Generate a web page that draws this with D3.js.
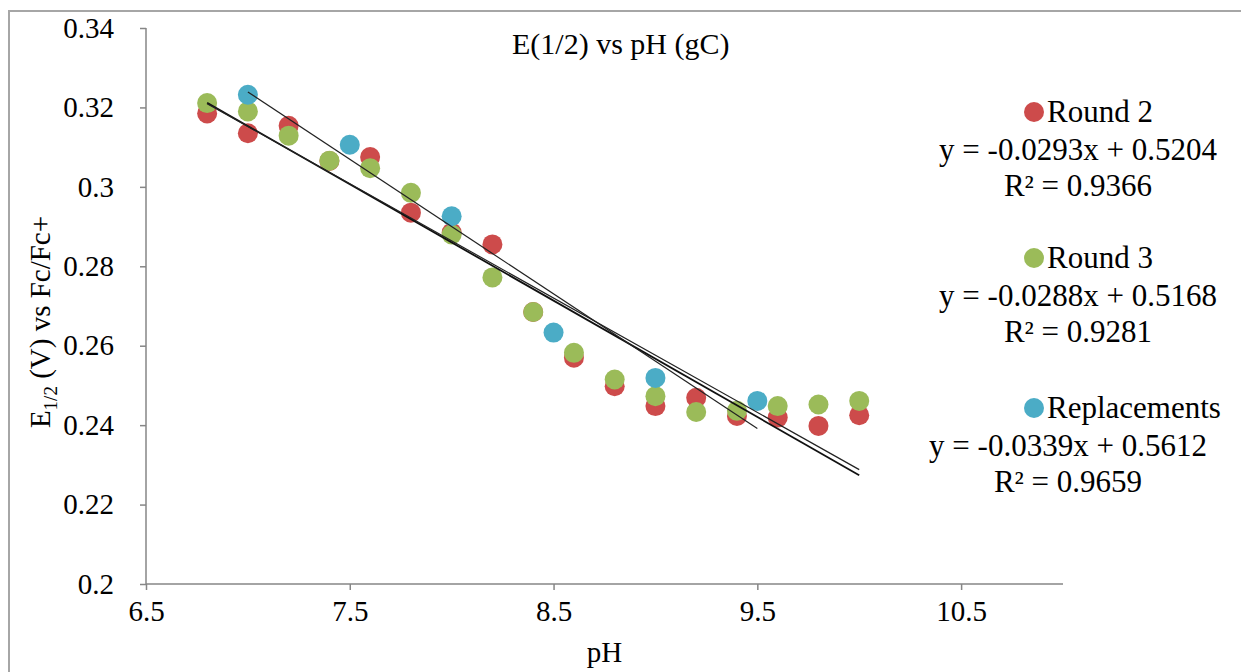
<!DOCTYPE html>
<html>
<head>
<meta charset="utf-8">
<script src="https://cdn.jsdelivr.net/npm/d3@7"></script>
<style>
  html, body { margin: 0; padding: 0; background: #fff; }
  svg { display: block; }
  svg text { font-family: "Liberation Serif", "Times New Roman", "DejaVu Serif", serif !important; fill: #000; }
</style>
</head>
<body>
<svg id="chart" width="1241" height="672"></svg>
<script>
// ---- data ----
const pH = [6.8, 7.0, 7.2, 7.4, 7.6, 7.8, 8.0, 8.2, 8.4, 8.6, 8.8, 9.0, 9.2, 9.4, 9.6, 9.8, 10.0];
const round2 = [0.3185, 0.3135, 0.3154, 0.3065, 0.3075, 0.2935, 0.2885, 0.2855, 0.2685, 0.2570, 0.2498, 0.2448, 0.2469, 0.2423, 0.2419, 0.2398, 0.2425];
const round3 = [0.3211, 0.3190, 0.3129, 0.3066, 0.3047, 0.2985, 0.2880, 0.2772, 0.2685, 0.2582, 0.2515, 0.2473, 0.2433, 0.2436, 0.2448, 0.2452, 0.2461];
const pHRepl = [7.0, 7.5, 8.0, 8.5, 9.0, 9.5];
const replacements = [0.3232, 0.3106, 0.2926, 0.2633, 0.2519, 0.2461];

const seriesNames = ["Round 2", "Round 3", "Replacements"];
const slopes = [-0.0293, -0.0288, -0.0339];
const intercepts = [0.5204, 0.5168, 0.5612];
const equations = ["y = -0.0293x + 0.5204", "y = -0.0288x + 0.5168", "y = -0.0339x + 0.5612"];
const r2Labels = ["R² = 0.9366", "R² = 0.9281", "R² = 0.9659"];

const xTicks = [6.5, 7.5, 8.5, 9.5, 10.5];
const yTicks = [0.2, 0.22, 0.24, 0.26, 0.28, 0.3, 0.32, 0.34];

const title = "E(1/2) vs pH (gC)";
const xTitle = "pH";

// ---- layout ----
const serif = '"Liberation Serif", "Times New Roman", "DejaVu Serif", serif';
const colors = ["#CD4B4B", "#9BBB59", "#4BACC6"];
const svg = d3.select("#chart");
const plot = { left: 146, right: 1063, top: 28, bottom: 584 };

const x = d3.scaleLinear().domain([6.5, 11]).range([plot.left, plot.right]);
const y = d3.scaleLinear().domain([0.2, 0.34]).range([plot.bottom, plot.top]);

svg.append("rect").attr("width", 1241).attr("height", 672).attr("fill", "#fff");
// outer chart border
svg.append("rect").attr("x", 9).attr("y", 11).attr("width", 1300).attr("height", 800)
  .attr("fill", "none").attr("stroke", "#a6a6a6").attr("stroke-width", 2);

// axes
const axisColor = "#868686";
const yAxis = svg.append("g").attr("transform", `translate(${plot.left},0)`)
  .call(d3.axisLeft(y).tickValues(yTicks).tickSize(6).tickPadding(26).tickFormat(d3.format("")));
const xAxis = svg.append("g").attr("transform", `translate(0,${plot.bottom})`)
  .call(d3.axisBottom(x).tickValues(xTicks).tickSize(6).tickPadding(10).tickFormat(d3.format("")));
[xAxis, yAxis].forEach(g => {
  g.attr("font-family", serif).attr("font-size", 29);
  g.select(".domain").attr("stroke", axisColor).attr("stroke-width", 1.5);
  g.selectAll(".tick line").attr("stroke", axisColor).attr("stroke-width", 1.5);
  g.selectAll(".tick text").style("font-family", serif).style("font-size", "29px").attr("fill", "#000");
});
xAxis.select(".domain").attr("d", `M${plot.left},0H${plot.right}`);
yAxis.select(".domain").attr("d", `M0,${plot.top}V${plot.bottom}`);

// series points
const seriesX = [pH, pH, pHRepl];
const seriesY = [round2, round3, replacements];
seriesY.forEach((vals, i) => {
  svg.append("g").selectAll("circle").data(vals).join("circle")
    .attr("cx", (d, j) => x(seriesX[i][j]))
    .attr("cy", d => y(d))
    .attr("r", 10)
    .attr("fill", colors[i]);
});

// trendlines
const trendWidths = [1.8, 1.2, 1.2];
const trendColors = ["#111", "#222", "#222"];
seriesX.forEach((xs, i) => {
  const x0 = d3.min(xs), x1 = d3.max(xs);
  svg.append("line")
    .attr("x1", x(x0)).attr("y1", y(slopes[i] * x0 + intercepts[i]))
    .attr("x2", x(x1)).attr("y2", y(slopes[i] * x1 + intercepts[i]))
    .attr("stroke", trendColors[i]).attr("stroke-width", trendWidths[i]);
});

// title
svg.append("text").attr("x", 512).attr("y", 54).style("font-family", serif).style("font-size", "30px").text(title);

// axis titles
svg.append("text").attr("x", x(8.75)).attr("y", 662).attr("text-anchor", "middle")
  .style("font-family", serif).style("font-size", "29px").text(xTitle);
const yt = svg.append("text").attr("transform", "translate(50,322) rotate(-90)")
  .attr("text-anchor", "middle").style("font-family", serif).style("font-size", "29px");
yt.append("tspan").text("E");
yt.append("tspan").style("font-size", "19px").attr("dy", 7).text("1/2");
yt.append("tspan").attr("dy", -7).text(" (V) vs Fc/Fc+");

// legend / trendline labels
const legendY = [112, 258, 408];
const eqCenters = [1078, 1078, 1068];
const legendFont = "31px";
seriesNames.forEach((name, i) => {
  const g = svg.append("g");
  g.append("circle").attr("cx", 1034).attr("cy", legendY[i]).attr("r", 10).attr("fill", colors[i]);
  g.append("text").attr("x", 1047).attr("y", legendY[i] + 10).style("font-family", serif).style("font-size", legendFont).text(name);
  g.append("text").attr("x", eqCenters[i]).attr("y", legendY[i] + 48).attr("text-anchor", "middle")
    .style("font-family", serif).style("font-size", legendFont).text(equations[i]);
  g.append("text").attr("x", eqCenters[i]).attr("y", legendY[i] + 84).attr("text-anchor", "middle")
    .style("font-family", serif).style("font-size", legendFont).text(r2Labels[i]);
});
</script>
</body>
</html>
